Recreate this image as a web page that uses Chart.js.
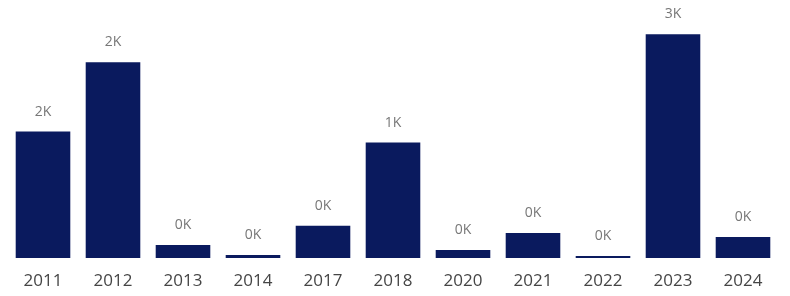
<!DOCTYPE html>
<html>
<head>
<meta charset="utf-8">
<script src="https://cdn.jsdelivr.net/npm/chart.js@4"></script>
<style>
html,body{margin:0;padding:0;background:#fff;}
#wrap{width:790px;height:296px;}
</style>
</head>
<body>
<div id="wrap"><canvas id="yearChart"></canvas></div>
<script>
// categories
const years=["2011","2012","2013","2014","2017","2018","2020","2021","2022","2023","2024"];

// values
const counts=[1554,2404,160,37,395,1418,99,308,25,2750,259];

// value labels above the bars (shown in K)
const fmtK=v=>Math.round(v/1000)+"K";

const barLabels={
  id:"barLabels",
  afterDatasetsDraw(chart){
    const ctx=chart.ctx;
    const meta=chart.getDatasetMeta(0);
    ctx.save();
    ctx.font="14px 'Segoe UI', 'Open Sans', sans-serif";
    ctx.fillStyle="#777777";
    ctx.textAlign="center";
    ctx.textBaseline="middle";
    meta.data.forEach((bar,i)=>{
      ctx.fillText(fmtK(counts[i]),bar.x,bar.y-20);
    });
    ctx.restore();
  }
};

new Chart(document.getElementById("yearChart"),{
  type:"bar",
  data:{
    labels:years,
    datasets:[{
      data:counts,
      backgroundColor:"#0a1a5e",
      categoryPercentage:1,
      barPercentage:0.78
    }]
  },
  options:{
    responsive:true,
    maintainAspectRatio:false,
    animation:false,
    layout:{padding:{left:8,right:12,top:0,bottom:0}},
    plugins:{legend:{display:false},tooltip:{enabled:false}},
    scales:{
      x:{
        grid:{display:false,drawTicks:false},
        border:{display:false},
        afterFit(scale){scale.height=38;},
        ticks:{
          color:"#454545",
          padding:13,
          font:{family:"'Segoe UI', 'Open Sans', sans-serif",size:17}
        }
      },
      y:{display:false,min:0,max:3170}
    }
  },
  plugins:[barLabels]
});
</script>
</body>
</html>
